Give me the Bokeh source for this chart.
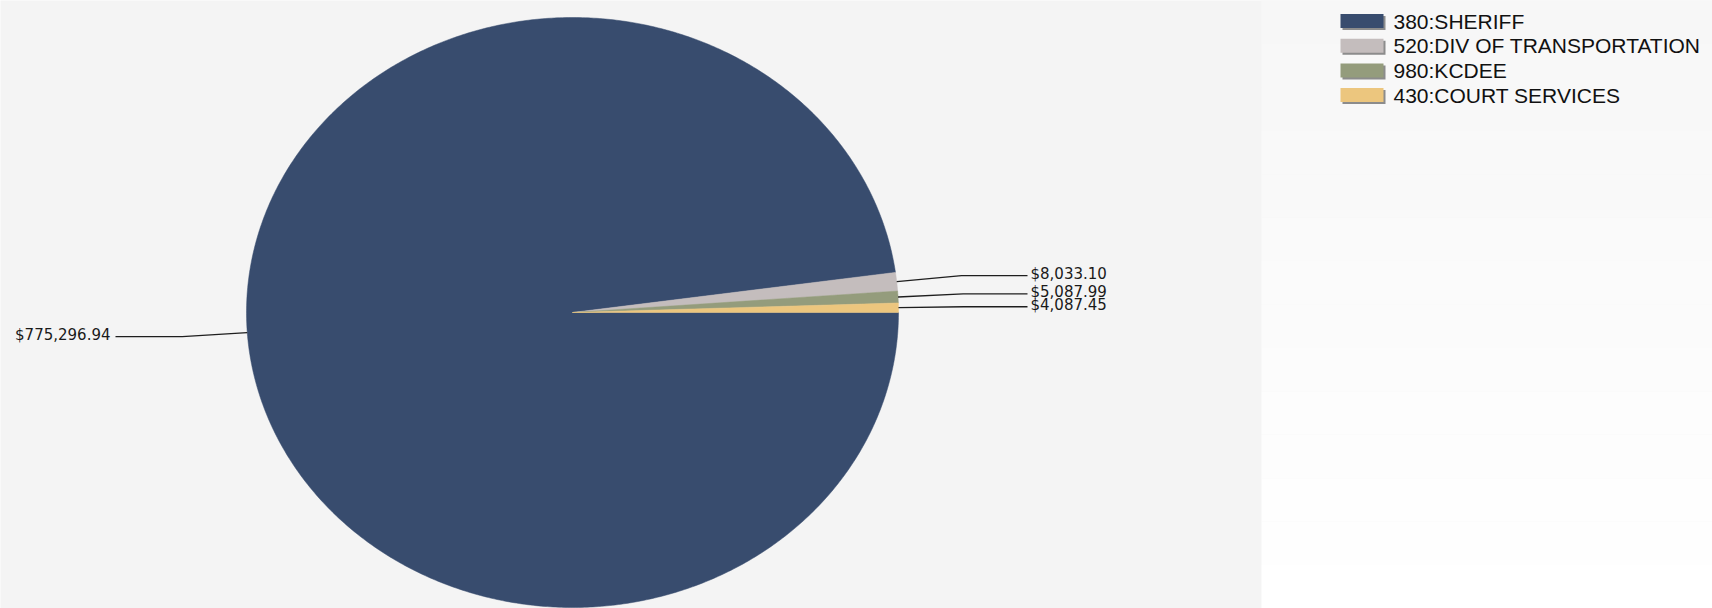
import numpy as np
from bokeh.plotting import figure
from bokeh.models import ColumnDataSource, Range1d
from bokeh.core.properties import value
from bokeh.embed import file_html
from bokeh.resources import INLINE

# ---- data ----
categories = ["380:SHERIFF", "520:DIV OF TRANSPORTATION", "980:KCDEE", "430:COURT SERVICES"]
amounts = [775296.94, 8033.10, 5087.99, 4087.45]
colors = ["#384c6e", "#c4bdbd", "#949c7c", "#ecc67e"]

# ---- figure (pixel-like data space, y downward) ----
W, H = 1712, 608
p = figure(width=W, height=H, x_range=Range1d(0, W), y_range=Range1d(H, 0),
           output_backend="svg", toolbar_location=None, min_border=0,
           x_axis_type=None, y_axis_type=None)
p.grid.visible = False
p.outline_line_color = None
p.background_fill_color = "#f4f4f4"
p.border_fill_color = "#f4f4f4"

# ---- legend panel with vertical gradient ----
LX0 = 1261
nb = 14
bt = np.linspace(0, H, nb + 1)
band_cols = []
for i in range(nb):
    t = i / (nb - 1)
    c = int(round(247 + (255 - 247) * t))
    band_cols.append("#%02x%02x%02x" % (c, c, c))
p.quad(left=[LX0] * nb, right=[W] * nb, top=list(bt[:-1]), bottom=list(bt[1:]),
       fill_color=band_cols, line_color=None)

# ---- pie (elliptical) ----
cx, cy, rx, ry = 572, 312, 326, 295
vals = np.array(amounts, dtype=float)
fr = vals / vals.sum()
ends = np.cumsum(fr) * 2 * np.pi
starts = np.concatenate([[0.0], ends[:-1]])

xs, ys = [], []
for a0, a1 in zip(starts, ends):
    n = max(4, int((a1 - a0) / (2 * np.pi) * 720) + 2)
    th = np.linspace(a0, a1, n)
    xs.append([cx] + list(cx + rx * np.cos(th)) + [cx])
    ys.append([cy] + list(cy + ry * np.sin(th)) + [cy])
p.patches(xs=xs, ys=ys, fill_color=colors, line_color=colors, line_width=0.5)

# ---- leader lines and labels ----
lx, ly, tx, ty, tt, ta = [], [], [], [], [], []
for a0, a1, v in zip(starts, ends, amounts):
    m = (a0 + a1) / 2
    ex, ey = cx + rx * np.cos(m), cy + ry * np.sin(m)
    bx, by = cx + 1.2 * rx * np.cos(m), cy + 1.2 * ry * np.sin(m)
    if np.cos(m) >= 0:
        endx = 1027
        tx.append(endx + 3); ta.append("left")
    else:
        endx = 115
        tx.append(endx - 5); ta.append("right")
    lx.append([ex, bx, endx]); ly.append([ey, by, by])
    ty.append(by - 2)
    tt.append("${:,.2f}".format(v))
p.multi_line(xs=lx, ys=ly, line_color="#1e1e1e", line_width=1.3)
src = ColumnDataSource(dict(x=tx, y=ty, t=tt, a=ta))
p.text(x="x", y="y", text="t", text_align="a", source=src, text_baseline="middle",
       text_font=value("DejaVu Sans"), text_font_size="15px", text_color="#1a1a1a")

# ---- legend ----
row_y = [20.5 + 24.7 * i for i in range(len(categories))]
sw_l, sw_r, sw_h = 1340, 1383, 14
p.quad(left=[sw_l + 2] * 4, right=[sw_r + 2] * 4,
       top=[y - sw_h / 2 + 2 for y in row_y], bottom=[y + sw_h / 2 + 2 for y in row_y],
       fill_color="#707070", fill_alpha=0.8, line_color=None)
p.quad(left=[sw_l] * 4, right=[sw_r] * 4,
       top=[y - sw_h / 2 for y in row_y], bottom=[y + sw_h / 2 for y in row_y],
       fill_color=colors, line_color=None)
p.text(x=[1393] * 4, y=row_y, text=categories, text_baseline="middle", text_align="left",
       text_font=value("Liberation Sans"), text_font_size="21px", text_color="#111111")

open("out.html", "w").write(file_html(p, INLINE))
